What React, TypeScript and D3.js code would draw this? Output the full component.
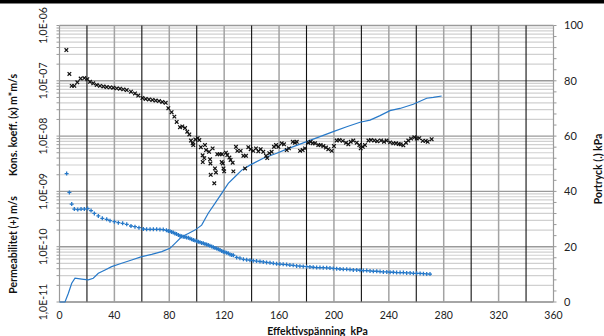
import React from "react";
import * as d3 from "d3";

// Konsolideringskoefficient (x), m*m/s
const consKpa = [5, 7.2, 8.9, 10.8, 13, 15.4, 18.1, 20.3, 22.2, 24.6, 27.1, 29.5, 32, 34.4, 36.8, 39.2, 41.7, 44.1, 46.5, 49, 52.1, 55, 57.4, 60.4, 62.8, 65.2, 67.7, 70.1, 72.5, 74.9, 77.4, 79.3, 81.7, 83.7, 85.4, 87.8, 89.5, 91.5, 93.1, 94.6, 95.8, 97, 97.5, 99, 100.7, 101.9, 103, 104.3, 104.4, 105.5, 106, 106.8, 109, 109.7, 110, 110.2, 111.6, 112.8, 113.3, 114, 115, 116.7, 118.4, 118.2, 119, 119.5, 120, 121.3, 122.3, 123.8, 124.7, 126.2, 126.7, 128.6, 129.6, 132, 134, 135.2, 135.9, 137.6, 139.3, 141.2, 143.2, 144.9, 146.6, 148.5, 150.5, 151.4, 152.9, 154.6, 156.3, 157.8, 159.5, 161.9, 163.6, 165.6, 167.2, 170, 171.6, 172.9, 175.3, 177.2, 178.9, 181.3, 183, 184.5, 186.2, 188.6, 190.3, 192.3, 194.2, 195.9, 198.4, 200, 202, 204, 206.4, 208.8, 210.5, 212.2, 214.1, 216.6, 218.5, 219.5, 221, 222.6, 225.1, 227, 229.4, 231.6, 234.3, 236.5, 238.4, 240.9, 243.3, 245.2, 247.2, 248.6, 250.6, 252.5, 254.2, 256.2, 258.6, 260.3, 262.2, 264.7, 266.9, 268.3, 271.2];
const consVal = [3.6e-7, 1.33e-7, 8.1e-8, 8.1e-8, 9.4e-8, 1.1e-7, 1.12e-7, 1.07e-7, 9.6e-8, 9.0e-8, 8.4e-8, 8.1e-8, 7.9e-8, 7.7e-8, 7.6e-8, 7.5e-8, 7.3e-8, 7.2e-8, 7.0e-8, 6.8e-8, 6.35e-8, 5.9e-8, 5.4e-8, 4.9e-8, 4.7e-8, 4.6e-8, 4.5e-8, 4.4e-8, 4.3e-8, 4.15e-8, 4.0e-8, 3.2e-8, 2.7e-8, 2.25e-8, 1.8e-8, 1.45e-8, 1.5e-8, 1.4e-8, 1.2e-8, 1.07e-8, 8.3e-9, 7.4e-9, 6.9e-9, 8.7e-9, 9.2e-9, 8.5e-9, 6.3e-9, 4.5e-9, 3.4e-9, 4.0e-9, 6.9e-9, 5.6e-9, 5.2e-9, 3.8e-9, 3.2e-9, 2.0e-9, 6.0e-9, 1.4e-9, 2.6e-9, 2.2e-9, 4.7e-9, 4.7e-9, 4.7e-9, 3.4e-9, 3.2e-9, 2.6e-9, 2.3e-9, 5.0e-9, 4.55e-9, 4.1e-9, 3.7e-9, 3.3e-9, 2.3e-9, 6.4e-9, 5.4e-9, 5.4e-9, 4.4e-9, 2.6e-9, 4.4e-9, 6.3e-9, 5.8e-9, 5.4e-9, 6.0e-9, 5.3e-9, 5.8e-9, 5.2e-9, 4.4e-9, 4.0e-9, 4.9e-9, 5.2e-9, 6.4e-9, 6.9e-9, 6.4e-9, 7.4e-9, 7.1e-9, 5.6e-9, 6.0e-9, 7.9e-9, 7.6e-9, 7.9e-9, 5.4e-9, 5.6e-9, 6.0e-9, 7.6e-9, 7.9e-9, 7.4e-9, 7.4e-9, 6.9e-9, 6.9e-9, 6.6e-9, 6.2e-9, 5.8e-9, 5.4e-9, 6.6e-9, 8.3e-9, 8.5e-9, 8.2e-9, 7.6e-9, 7.1e-9, 7.9e-9, 8.3e-9, 7.6e-9, 6.9e-9, 6.0e-9, 6.4e-9, 6.9e-9, 8.3e-9, 8.5e-9, 8.3e-9, 8.1e-9, 8.3e-9, 7.9e-9, 8.3e-9, 7.7e-9, 7.4e-9, 7.4e-9, 7.2e-9, 7.1e-9, 6.8e-9, 7.6e-9, 8.3e-9, 9.0e-9, 9.5e-9, 9.0e-9, 9.2e-9, 8.2e-9, 8.2e-9, 7.9e-9, 8.8e-9];

// Permeabilitet (+), m/s
const permKpa = [5.2, 7.2, 8.9, 10.8, 13.3, 15.7, 18.1, 20.5, 23, 25.4, 28.3, 31.2, 34.4, 36.8, 40, 42.9, 46, 49, 52.1, 55, 57.9, 61.1, 63.5, 66, 68.4, 70.8, 73.2, 75.6, 77.9, 79.3, 80.5, 81.7, 82.9, 84.1, 85.3, 86.6, 87.8, 89, 90.2, 91.4, 92.6, 93.9, 95.1, 96.3, 97.5, 98.7, 100, 101.2, 102.4, 103.6, 104.8, 106, 107.2, 108.4, 109.6, 110.9, 112.1, 113.3, 114.5, 115.7, 117, 118.2, 119.4, 120.6, 121.8, 123, 124.3, 125.5, 126.7, 129.1, 131.5, 134, 136.4, 138.8, 141.2, 143.6, 146.1, 148.5, 150.9, 153.4, 155.8, 158.2, 160.6, 163, 165.5, 167.9, 170.3, 172.8, 175.2, 177.6, 180.1, 182.5, 184.9, 187.4, 189.8, 192.2, 194.7, 197.1, 199.5, 202, 204.4, 206.8, 209.3, 211.7, 214.1, 216.6, 219, 221.4, 223.9, 226.3, 228.7, 231.2, 233.6, 236, 238.5, 240.9, 243.3, 245.7, 248.2, 250.6, 253, 255.5, 257.9, 260.3, 262.8, 265.2, 267.6, 270];
const permVal = [2.1e-9, 9.6e-10, 5.9e-10, 4.8e-10, 4.7e-10, 4.8e-10, 4.8e-10, 4.9e-10, 4.5e-10, 4.0e-10, 3.6e-10, 3.26e-10, 3.13e-10, 2.95e-10, 2.83e-10, 2.72e-10, 2.65e-10, 2.54e-10, 2.37e-10, 2.3e-10, 2.21e-10, 2.09e-10, 2.06e-10, 2.06e-10, 2.06e-10, 2.06e-10, 2.05e-10, 2.04e-10, 1.98e-10, 1.92e-10, 1.9e-10, 1.85e-10, 1.8e-10, 1.74e-10, 1.69e-10, 1.63e-10, 1.58e-10, 1.55e-10, 1.52e-10, 1.5e-10, 1.47e-10, 1.45e-10, 1.4e-10, 1.36e-10, 1.32e-10, 1.29e-10, 1.26e-10, 1.23e-10, 1.2e-10, 1.17e-10, 1.15e-10, 1.12e-10, 1.1e-10, 1.07e-10, 1.04e-10, 1.01e-10, 9.8e-11, 9.5e-11, 9.3e-11, 9.0e-11, 8.7e-11, 8.4e-11, 8.1e-11, 7.9e-11, 7.8e-11, 7.6e-11, 7.2e-11, 7.1e-11, 7.0e-11, 6.4e-11, 6.2e-11, 5.9e-11, 5.8e-11, 5.7e-11, 5.6e-11, 5.5e-11, 5.4e-11, 5.3e-11, 5.2e-11, 5.1e-11, 5.0e-11, 4.9e-11, 4.85e-11, 4.8e-11, 4.75e-11, 4.65e-11, 4.6e-11, 4.5e-11, 4.45e-11, 4.4e-11, 4.35e-11, 4.3e-11, 4.25e-11, 4.2e-11, 4.2e-11, 4.17e-11, 4.15e-11, 4.1e-11, 4.05e-11, 4.0e-11, 3.95e-11, 3.9e-11, 3.9e-11, 3.85e-11, 3.8e-11, 3.8e-11, 3.75e-11, 3.7e-11, 3.7e-11, 3.65e-11, 3.6e-11, 3.6e-11, 3.55e-11, 3.5e-11, 3.5e-11, 3.45e-11, 3.45e-11, 3.4e-11, 3.4e-11, 3.4e-11, 3.35e-11, 3.35e-11, 3.3e-11, 3.3e-11, 3.28e-11, 3.25e-11, 3.22e-11, 3.2e-11];

// Portryck (.), kPa
const poreKpa = [0, 4, 6.4, 8.9, 11.3, 16.2, 21, 24.6, 28.3, 33.2, 38, 45.3, 52.6, 59.9, 67.2, 74.5, 80.5, 84.2, 89, 93.9, 98.7, 103.6, 108.4, 113.3, 118.2, 123, 127.9, 132.8, 138.8, 148.5, 158.3, 164.3, 170.4, 180.1, 189.8, 199.5, 209.3, 219, 226.3, 233.6, 240.8, 248.1, 257.8, 267.6, 272.4, 278.5];
const poreVal = [0, 0, 3.1, 6.8, 8.6, 8.3, 8.0, 8.6, 10.4, 11.6, 12.8, 14, 15.2, 16.4, 17.2, 18.2, 19.4, 21.2, 23.6, 24.8, 26, 27.8, 32.1, 35.7, 39.3, 42.9, 45.3, 47.7, 49.5, 52, 53.8, 55, 56.2, 58, 59.8, 61.6, 63.4, 65, 65.8, 67.4, 69.2, 70, 71.5, 73.7, 74, 74.5];

const xTicks = [0, 40, 80, 120, 160, 200, 240, 280, 320, 360];
const xDarkGrid = [20, 60, 100, 140, 180, 220, 260, 300, 340];
const leftTicks = [1e-11, 1e-10, 1e-9, 1e-8, 1e-7, 1e-6];
const leftTickLabels = ["1,0E-11", "1,0E-10", "1,0E-09", "1,0E-08", "1,0E-07", "1,0E-06"];
const rightTicks = [0, 20, 40, 60, 80, 100];

const W = 604;
const H = 336;
const FONT = "Lato, 'Noto Sans', sans-serif";
const BLUE = "#2779c9";

export default function App() {
  const x = d3.scaleLinear().domain([0, 360]).range([59.5, 553.5]);
  const yL = d3.scaleLog().domain([1e-11, 1e-6]).range([302, 25.5]);
  const yR = d3.scaleLinear().domain([0, 100]).range([302, 25.5]);

  const minorLog: number[] = [];
  for (let e = -11; e < -6; e++) {
    for (let m = 2; m <= 9; m++) minorLog.push(m * Math.pow(10, e));
  }
  const rightMinor = d3.range(0, 101, 4);

  const line = d3
    .line<number>()
    .x((_, i) => x(poreKpa[i]))
    .y((d) => yR(d));

  const [x0, x1] = x.range();
  const [yb, yt] = yL.range();

  return (
    <svg
      width={W}
      height={H}
      style={{ position: "absolute", left: 0, top: 0, background: "#fff" }}
      fontFamily={FONT}
    >
      <rect x={0} y={0} width={W} height={H} fill="#fff" />
      <rect x={0} y={0} width={W} height={3.5} fill="#000" />

      {/* horizontal minor gridlines */}
      {minorLog.map((v, i) => (
        <line key={"hm" + i} x1={x0} x2={x1} y1={yL(v)} y2={yL(v)} stroke="#d0d0d0" strokeWidth={1.2} />
      ))}
      {/* horizontal major gridlines */}
      {leftTicks.map((v, i) => (
        <line key={"hM" + i} x1={x0} x2={x1} y1={yL(v)} y2={yL(v)} stroke="#9a9a9a" strokeWidth={1.4} />
      ))}
      {/* vertical gridlines */}
      {xTicks.slice(1, -1).map((v, i) => (
        <line key={"vg" + i} x1={x(v)} x2={x(v)} y1={yt} y2={yb} stroke="#a3a3a3" strokeWidth={1.5} />
      ))}
      {xDarkGrid.map((v, i) => (
        <line key={"vd" + i} x1={x(v)} x2={x(v)} y1={yt} y2={yb} stroke="#111" strokeWidth={1.1} />
      ))}

      {/* axes */}
      <line x1={x0} x2={x0} y1={yt} y2={yb} stroke="#9a9a9a" strokeWidth={1.2} />
      <line x1={x1} x2={x1} y1={yt} y2={yb} stroke="#9a9a9a" strokeWidth={1.2} />
      <line x1={x0} x2={x1} y1={yb} y2={yb} stroke="#9a9a9a" strokeWidth={1.2} />
      {minorLog.concat(leftTicks).map((v, i) => (
        <line key={"lt" + i} x1={x0 - 3} x2={x0} y1={yL(v)} y2={yL(v)} stroke="#9a9a9a" strokeWidth={1} />
      ))}
      {rightMinor.map((v, i) => (
        <line key={"rt" + i} x1={x1} x2={x1 + 3} y1={yR(v)} y2={yR(v)} stroke="#9a9a9a" strokeWidth={1} />
      ))}

      {/* pore pressure line */}
      <path d={line(poreVal) || ""} fill="none" stroke={BLUE} strokeWidth={1.2} />

      {/* permeability pluses */}
      {permKpa.map((k, i) => {
        const cx = x(k);
        const cy = yL(permVal[i]);
        return (
          <path key={"p" + i} d={`M${cx - 2},${cy}H${cx + 2}M${cx},${cy - 2}V${cy + 2}`} stroke={BLUE} strokeWidth={1.3} fill="none" />
        );
      })}

      {/* consolidation crosses */}
      {consKpa.map((k, i) => {
        const cx = x(k);
        const cy = yL(consVal[i]);
        return (
          <path key={"c" + i} d={`M${cx - 1.8},${cy - 1.8}L${cx + 1.8},${cy + 1.8}M${cx - 1.8},${cy + 1.8}L${cx + 1.8},${cy - 1.8}`} stroke="#111" strokeWidth={1.2} fill="none" />
        );
      })}

      {/* x tick labels */}
      {xTicks.map((v, i) => (
        <text key={"xl" + i} x={x(v)} y={319} textAnchor="middle" fontSize={10.5} fill="#222">
          {v}
        </text>
      ))}
      {/* left tick labels */}
      {leftTicks.map((v, i) => (
        <text key={"yl" + i} transform={`translate(46.5,${yL(v)}) rotate(-90)`} textAnchor="middle" fontSize={10.5} fill="#222">
          {leftTickLabels[i]}
        </text>
      ))}
      {/* right tick labels */}
      {rightTicks.map((v, i) => (
        <text key={"yr" + i} x={564} y={yR(v)} dy="0.35em" textAnchor="start" fontSize={11} fill="#222">
          {v}
        </text>
      ))}

      {/* axis titles */}
      <text x={317.5} y={335} textAnchor="middle" fontSize={10.5} fontWeight="bold" fill="#111" style={{ whiteSpace: "pre" }}>
        {"Effektivspänning  kPa"}
      </text>
      <text transform="translate(17,245) rotate(-90)" textAnchor="middle" fontSize={10.5} fontWeight="bold" fill="#111">
        Permeabilitet (+) m/s
      </text>
      <text transform="translate(17,125) rotate(-90)" textAnchor="middle" fontSize={10.5} fontWeight="bold" fill="#111">
        Kons. koeff. (x) m*m/s
      </text>
      <text transform="translate(602,169) rotate(-90)" textAnchor="middle" fontSize={10.5} fontWeight="bold" fill="#111">
        Portryck (.) kPa
      </text>
    </svg>
  );
}
